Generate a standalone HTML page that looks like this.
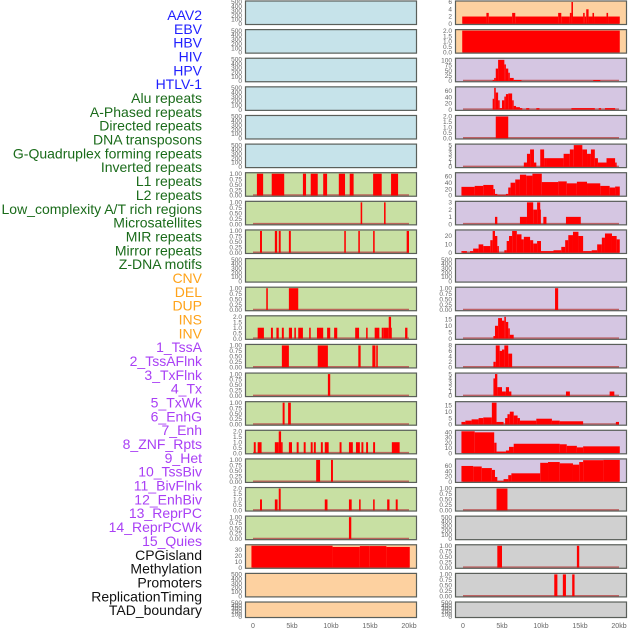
<!DOCTYPE html>
<html><head><meta charset="utf-8"><style>
html,body{margin:0;padding:0;background:#fff;width:630px;height:630px;overflow:hidden}
svg{display:block}
text{font-family:"Liberation Sans",sans-serif}
</style></head><body>
<svg id="chart" width="630" height="630" viewBox="0 0 630 630" xmlns="http://www.w3.org/2000/svg"></svg>
<script>
// ---------- labels ----------
const labelNames = ["AAV2","EBV","HBV","HIV","HPV","HTLV-1","Alu repeats","A-Phased repeats","Directed repeats","DNA transposons","G-Quadruplex forming repeats","Inverted repeats","L1 repeats","L2 repeats","Low_complexity A/T rich regions","Microsatellites","MIR repeats","Mirror repeats","Z-DNA motifs","CNV","DEL","DUP","INS","INV","1_TssA","2_TssAFlnk","3_TxFlnk","4_Tx","5_TxWk","6_EnhG","7_Enh","8_ZNF_Rpts","9_Het","10_TssBiv","11_BivFlnk","12_EnhBiv","13_ReprPC","14_ReprPCWk","15_Quies","CPGisland","Methylation","Promoters","ReplicationTiming","TAD_boundary"];
const labelGroups = [6,13,5,15,5];
const groupColors = ["#1f1fff","#1a6b1a","#ffa31a","#a93ff5","#111111"];
const xTickValues = [0,5,10,15,20];
const xTickLabels = ["0","5kb","10kb","15kb","20kb"];

// ---------- left column data: segments [startKb, endKb, value] ----------
const leftL1 = [[0.5,1.3,1],[2.4,4.0,1],[6.4,6.8,1],[7.4,8.3,1],[9.0,9.5,1],[11.0,11.8,1],[12.4,12.9,1],[15.4,16.5,1],[17.7,18.6,1]];
const leftR7 = [[13.8,14.0,1],[16.8,17.0,1]];
const leftR8 = [[0.9,1.15,1],[2.8,3.1,1],[3.3,3.55,1],[4.6,4.85,1],[11.7,11.9,1],[13.5,13.7,1],[15.4,15.6,1],[19.7,20.0,1]];
const leftR10 = [[1.7,1.9,1],[4.6,5.8,1]];
const leftR11 = [[0.6,1.4,1],[2.3,2.55,1],[3.0,3.3,1],[3.7,3.95,1],[4.6,5.0,1],[5.3,5.5,1],[5.8,6.4,1],[7.2,7.4,1],[8.2,9.0,1],[9.5,9.9,1],[10.4,10.8,1],[13.1,13.6,1],[14.5,14.7,1],[15.6,16.2,1],[16.5,16.7,1],[16.7,17.4,1],[17.4,17.7,2],[17.7,17.8,1],[19.5,19.8,1]];
const leftR12 = [[3.7,4.6,1],[8.3,9.6,1],[13.5,13.8,1],[15.3,15.7,1],[15.8,16.0,1]];
const leftR13 = [[9.6,9.9,1]];
const leftR14 = [[3.8,4.05,1],[4.5,4.85,1]];
const leftR15 = [[0.1,0.35,1],[0.6,1.1,1],[2.8,3.3,1],[3.3,3.6,2],[3.6,3.8,1],[4.6,5.0,1],[5.6,5.85,1],[6.5,6.75,1],[7.4,7.65,1],[7.8,8.05,1],[8.7,8.95,1],[9.2,9.7,1],[11.1,11.35,1],[12.3,12.8,1],[13.2,13.7,1],[13.9,14.15,1],[14.5,14.75,1],[15.4,15.65,1],[17.8,18.8,1]];
const leftR16 = [[8.1,8.6,1],[10.0,10.25,1]];
const leftR17 = [[0.9,1.15,1],[2.8,3.15,1],[3.3,3.55,2],[9.2,9.55,1],[12.3,12.65,1],[13.6,13.8,1],[15.4,15.6,1],[17.2,17.5,1],[18.3,18.55,1]];
const leftR18 = [[12.3,12.6,1]];
const leftCpg = [[-0.2,10.2,37],[10.2,13.7,35],[13.7,14.9,36.5],[14.9,17.1,36.5],[17.1,20.1,35]];

// ---------- right column data ----------
const rightAav2 = [[-0.1,3.0,2],[3.0,3.3,3],[3.3,6.3,2],[6.3,6.7,3],[6.7,12.2,2],[12.2,12.6,3],[12.6,13.7,2],[13.7,13.9,3],[13.9,14.1,6],[14.1,15.4,2],[15.4,15.6,3],[15.6,15.8,2],[15.8,16.1,4],[16.1,16.6,2],[16.6,16.8,3],[16.8,18.4,2],[18.4,18.6,3],[18.6,20.1,2]];
const rightEbv = [[-0.1,20.1,2]];
const rightHiv = [[3.8,4.0,5],[4.0,4.2,15],[4.2,4.5,60],[4.5,5.3,102],[5.3,5.5,80],[5.5,5.8,60],[5.8,6.0,40],[6.0,6.5,15],[6.5,7.5,5],[16.7,17.6,5]];
const rightHpv = [[3.8,4.0,35],[4.0,4.2,70],[4.2,4.5,55],[4.5,4.7,30],[4.7,5.0,5],[5.0,5.3,30],[5.3,5.5,42],[5.5,5.8,50],[5.8,6.3,52],[6.3,6.5,30],[6.5,6.8,12],[6.8,7.3,8],[7.3,7.6,5],[8.1,8.5,5],[9.4,9.8,5],[13.9,16.9,5],[17.4,17.7,5],[18.2,19.5,5]];
const rightR4 = [[4.2,5.8,2]];
const rightR5 = [[7.8,8.2,1],[8.2,8.6,3],[8.6,9.1,4],[9.1,9.4,1],[9.9,10.4,4],[10.4,10.7,2],[10.7,12.9,2],[12.9,13.7,3],[13.7,14.2,4],[14.2,15.3,5],[15.3,15.9,4],[15.9,16.4,3],[16.4,16.9,4],[16.9,17.3,2],[17.3,18.4,1],[18.4,19.5,2],[19.5,19.7,1]];
const rightR6 = [[-0.2,1.5,27],[1.5,2.6,30],[2.6,3.9,33],[3.9,4.1,20],[4.1,4.4,5],[4.4,5.5,2],[5.5,5.8,5],[5.8,6.1,25],[6.1,6.7,40],[6.7,7.3,50],[7.3,8.1,65],[8.1,8.9,62],[8.9,10.1,68],[10.1,12.2,42],[12.2,13.3,44],[13.3,14.6,38],[14.6,15.9,43],[15.9,17.6,38],[17.6,18.8,30],[18.8,19.5,25],[19.5,20.1,28]];
const rightR7 = [[4.1,4.4,1],[7.3,8.2,1],[8.2,9.0,3],[9.0,9.5,2],[9.5,9.9,3],[9.9,10.0,2],[10.3,10.7,1],[13.2,15.1,1]];
const rightR8 = [[-0.2,0.5,2],[0.9,1.3,2],[1.3,2.0,5],[2.0,2.6,10],[2.6,3.5,8],[3.5,3.8,15],[3.8,4.1,26],[4.1,4.4,20],[4.4,4.6,8],[5.3,5.6,3],[5.6,5.9,14],[5.9,6.3,20],[6.3,6.9,26],[6.9,7.5,22],[7.5,7.8,16],[7.8,8.6,19],[8.6,9.0,15],[9.0,9.5,11],[9.5,10.0,14],[10.0,11.6,2],[11.6,12.6,3],[12.6,13.1,7],[13.1,13.5,15],[13.5,14.1,21],[14.1,14.8,25],[14.8,15.4,20],[15.4,16.5,2],[16.5,17.2,3],[17.2,17.8,10],[17.8,18.2,18],[18.2,19.1,23],[19.1,19.7,20],[19.7,20.1,16]];
const rightR10 = [[11.8,12.2,1]];
const rightR11 = [[3.9,4.1,2],[4.1,4.5,10],[4.5,5.0,16],[5.0,5.3,14],[5.3,5.5,17],[5.5,5.8,13],[5.8,6.0,8],[6.0,6.5,3]];
const rightR12 = [[3.9,4.2,2],[4.2,4.7,8],[4.7,5.0,6],[5.0,5.3,6.5],[5.3,5.8,8],[5.8,6.3,5]];
const rightR13 = [[3.9,4.1,4],[4.1,4.4,5],[4.4,5.0,2],[5.0,5.5,1],[5.5,5.9,2],[5.9,6.2,1],[13.2,13.7,1],[18.8,19.4,1]];
const rightR14 = [[-0.2,0.3,2],[0.3,1.1,3],[1.1,2.0,4],[2.0,2.6,5],[2.6,3.7,5.5],[3.7,4.3,17],[4.3,5.2,2],[5.4,5.7,5],[5.7,6.0,8],[6.0,6.5,10],[6.5,7.0,7],[7.0,7.3,5],[7.3,9.4,3],[9.4,11.4,4.5],[11.4,12.4,3],[12.4,15.4,2.5],[19.6,20.0,2]];
const rightR15 = [[-0.2,1.5,42],[1.5,4.0,40],[4.0,4.3,20],[4.3,5.5,3],[5.5,5.9,5],[5.9,6.5,12],[6.5,12.4,18],[12.4,13.3,17],[13.3,14.6,14],[14.6,15.4,11],[15.4,20.1,13]];
const rightR16 = [[-0.2,1.3,60],[1.3,2.4,58],[2.4,3.7,52],[3.7,4.1,45],[4.1,4.4,18],[4.4,5.2,3],[5.2,5.8,10],[5.8,6.2,25],[6.2,9.9,32],[9.9,10.9,72],[10.9,12.4,75],[12.4,14.1,70],[14.1,14.9,65],[14.9,15.4,75],[15.4,18.0,82],[18.0,20.1,83]];
const rightR17 = [[4.3,5.7,1]];
const rightR19 = [[4.4,5.0,1],[14.6,14.9,1]];
const rightR20 = [[11.7,12.1,1],[12.8,13.2,1],[14.0,14.3,1]];

const tEmpty = [0,100,200,300,400,500];
const tBin = [0,0.25,0.5,0.75,1.0];
const tTwo = [0,0.5,1.0,1.5,2.0];

// panel specs: [data, ymax, ticks, bg]
const BL="#c6e3ea", GR="#c8e0a3", PE="#fdd1a0", LA="#d5c6e2", GY="#d0d0d0";
const leftSpecs = [
 [null,500,tEmpty,BL],[null,500,tEmpty,BL],[null,500,tEmpty,BL],[null,500,tEmpty,BL],[null,500,tEmpty,BL],[null,500,tEmpty,BL],
 [leftL1,1,tBin,GR],[leftR7,1,tBin,GR],[leftR8,1,tBin,GR],[null,500,tEmpty,GR],[leftR10,1,tBin,GR],[leftR11,2,tTwo,GR],
 [leftR12,1,tBin,GR],[leftR13,1,tBin,GR],[leftR14,1,tBin,GR],[leftR15,2,tTwo,GR],[leftR16,1,tBin,GR],[leftR17,2,tTwo,GR],[leftR18,1,tBin,GR],
 [leftCpg,37,[0,10,20,30],PE],[null,500,tEmpty,PE],[null,500,tEmpty,PE]
];
const rightSpecs = [
 [rightAav2,6,[0,2,4,6],PE],[rightEbv,2,tTwo,PE],[rightHiv,105,[0,25,50,75,100],LA],[rightHpv,70,[0,20,40,60],LA],
 [rightR4,2,tTwo,LA],[rightR5,5,[0,1,2,3,4,5],LA],[rightR6,68,[0,20,40,60],LA],[rightR7,3,[0,1,2,3],LA],
 [rightR8,26,[0,10,20],LA],[null,500,tEmpty,LA],[rightR10,1,tBin,LA],[rightR11,17,[0,5,10,15],LA],
 [rightR12,8,[0,2,4,6,8],LA],[rightR13,5,[0,1,2,3,4,5],LA],[rightR14,17,[0,5,10,15],LA],[rightR15,42,[0,10,20,30,40],LA],
 [rightR16,83,[0,20,40,60],LA],[rightR17,1,tBin,GY],[null,500,tEmpty,GY],[rightR19,1,tBin,GY],[rightR20,1,tBin,GY],[null,500,tEmpty,GY]
];

const NS="http://www.w3.org/2000/svg";
const svg=document.getElementById('chart');
function mk(tag,attrs,parent){const e=document.createElementNS(NS,tag);for(const k in attrs)e.setAttribute(k,attrs[k]);(parent||svg).appendChild(e);return e;}

// labels
let li=0;
labelGroups.forEach((n,g)=>{for(let j=0;j<n;j++){
  const t=mk('text',{x:202,y:(20+li*13.84).toFixed(1),'text-anchor':'end','font-size':'14',fill:groupColors[g]});
  
  
  t.textContent=labelNames[li];li++;}});

const cols=[{x0:245,x1:417,zero:253,specs:leftSpecs,name:'left'},{x0:455,x1:627,zero:463,specs:rightSpecs,name:'right'}];
const KB=7.8;
function fmt(v,ticks){const m=Math.max(...ticks);if(m<=1)return v.toFixed(2);if(m<=2)return v.toFixed(1);return String(v);}

cols.forEach(col=>{
  const xs=kb=>col.zero+kb*KB;
  col.specs.forEach((s,i)=>{
    const [data,ymax,ticks,bg]=s;
    const top=i*28.62+0.5, h=(i===21?16.5:24.5);
    const g=mk('g',{});
    
    
    mk('rect',{x:col.x0,y:top,width:col.x1-col.x0,height:h,fill:bg},g);
    const yb=top+h-1.2, yt=top+1.5;
    const ys=v=>yb-(v/ymax)*(yb-yt);
    if(data){
      mk('line',{x1:xs(0),x2:xs(20),y1:yb-0.5,y2:yb-0.5,stroke:'#b84848','stroke-width':1.5,opacity:0.8},g);
      data.forEach(d=>{
        const r=mk('rect',{x:xs(d[0]).toFixed(2),y:ys(d[2]).toFixed(2),width:(xs(d[1])-xs(d[0])).toFixed(2),height:(yb-ys(d[2])).toFixed(2),fill:'#ff0000'},g);
        
        
      });
    }
    mk('rect',{x:col.x0+0.5,y:top+0.5,width:col.x1-col.x0-1,height:h-1,fill:'none',stroke:'#5a5f5a','stroke-width':1.2},g);
    ticks.forEach(tv=>{
      const t=mk('text',{x:col.x0-3,y:(ys(tv)+2.2).toFixed(1),'text-anchor':'end','font-size':'6.5',fill:'#666'},g);
      
      
      t.textContent=fmt(tv,ticks);
    });
  });
  xTickValues.forEach((v,k)=>{
    const t=mk('text',{x:xs(v),y:628,'text-anchor':'middle','font-size':'7',fill:'#666'});
    
    
    t.textContent=xTickLabels[k];
  });
});
</script>
</body></html>
